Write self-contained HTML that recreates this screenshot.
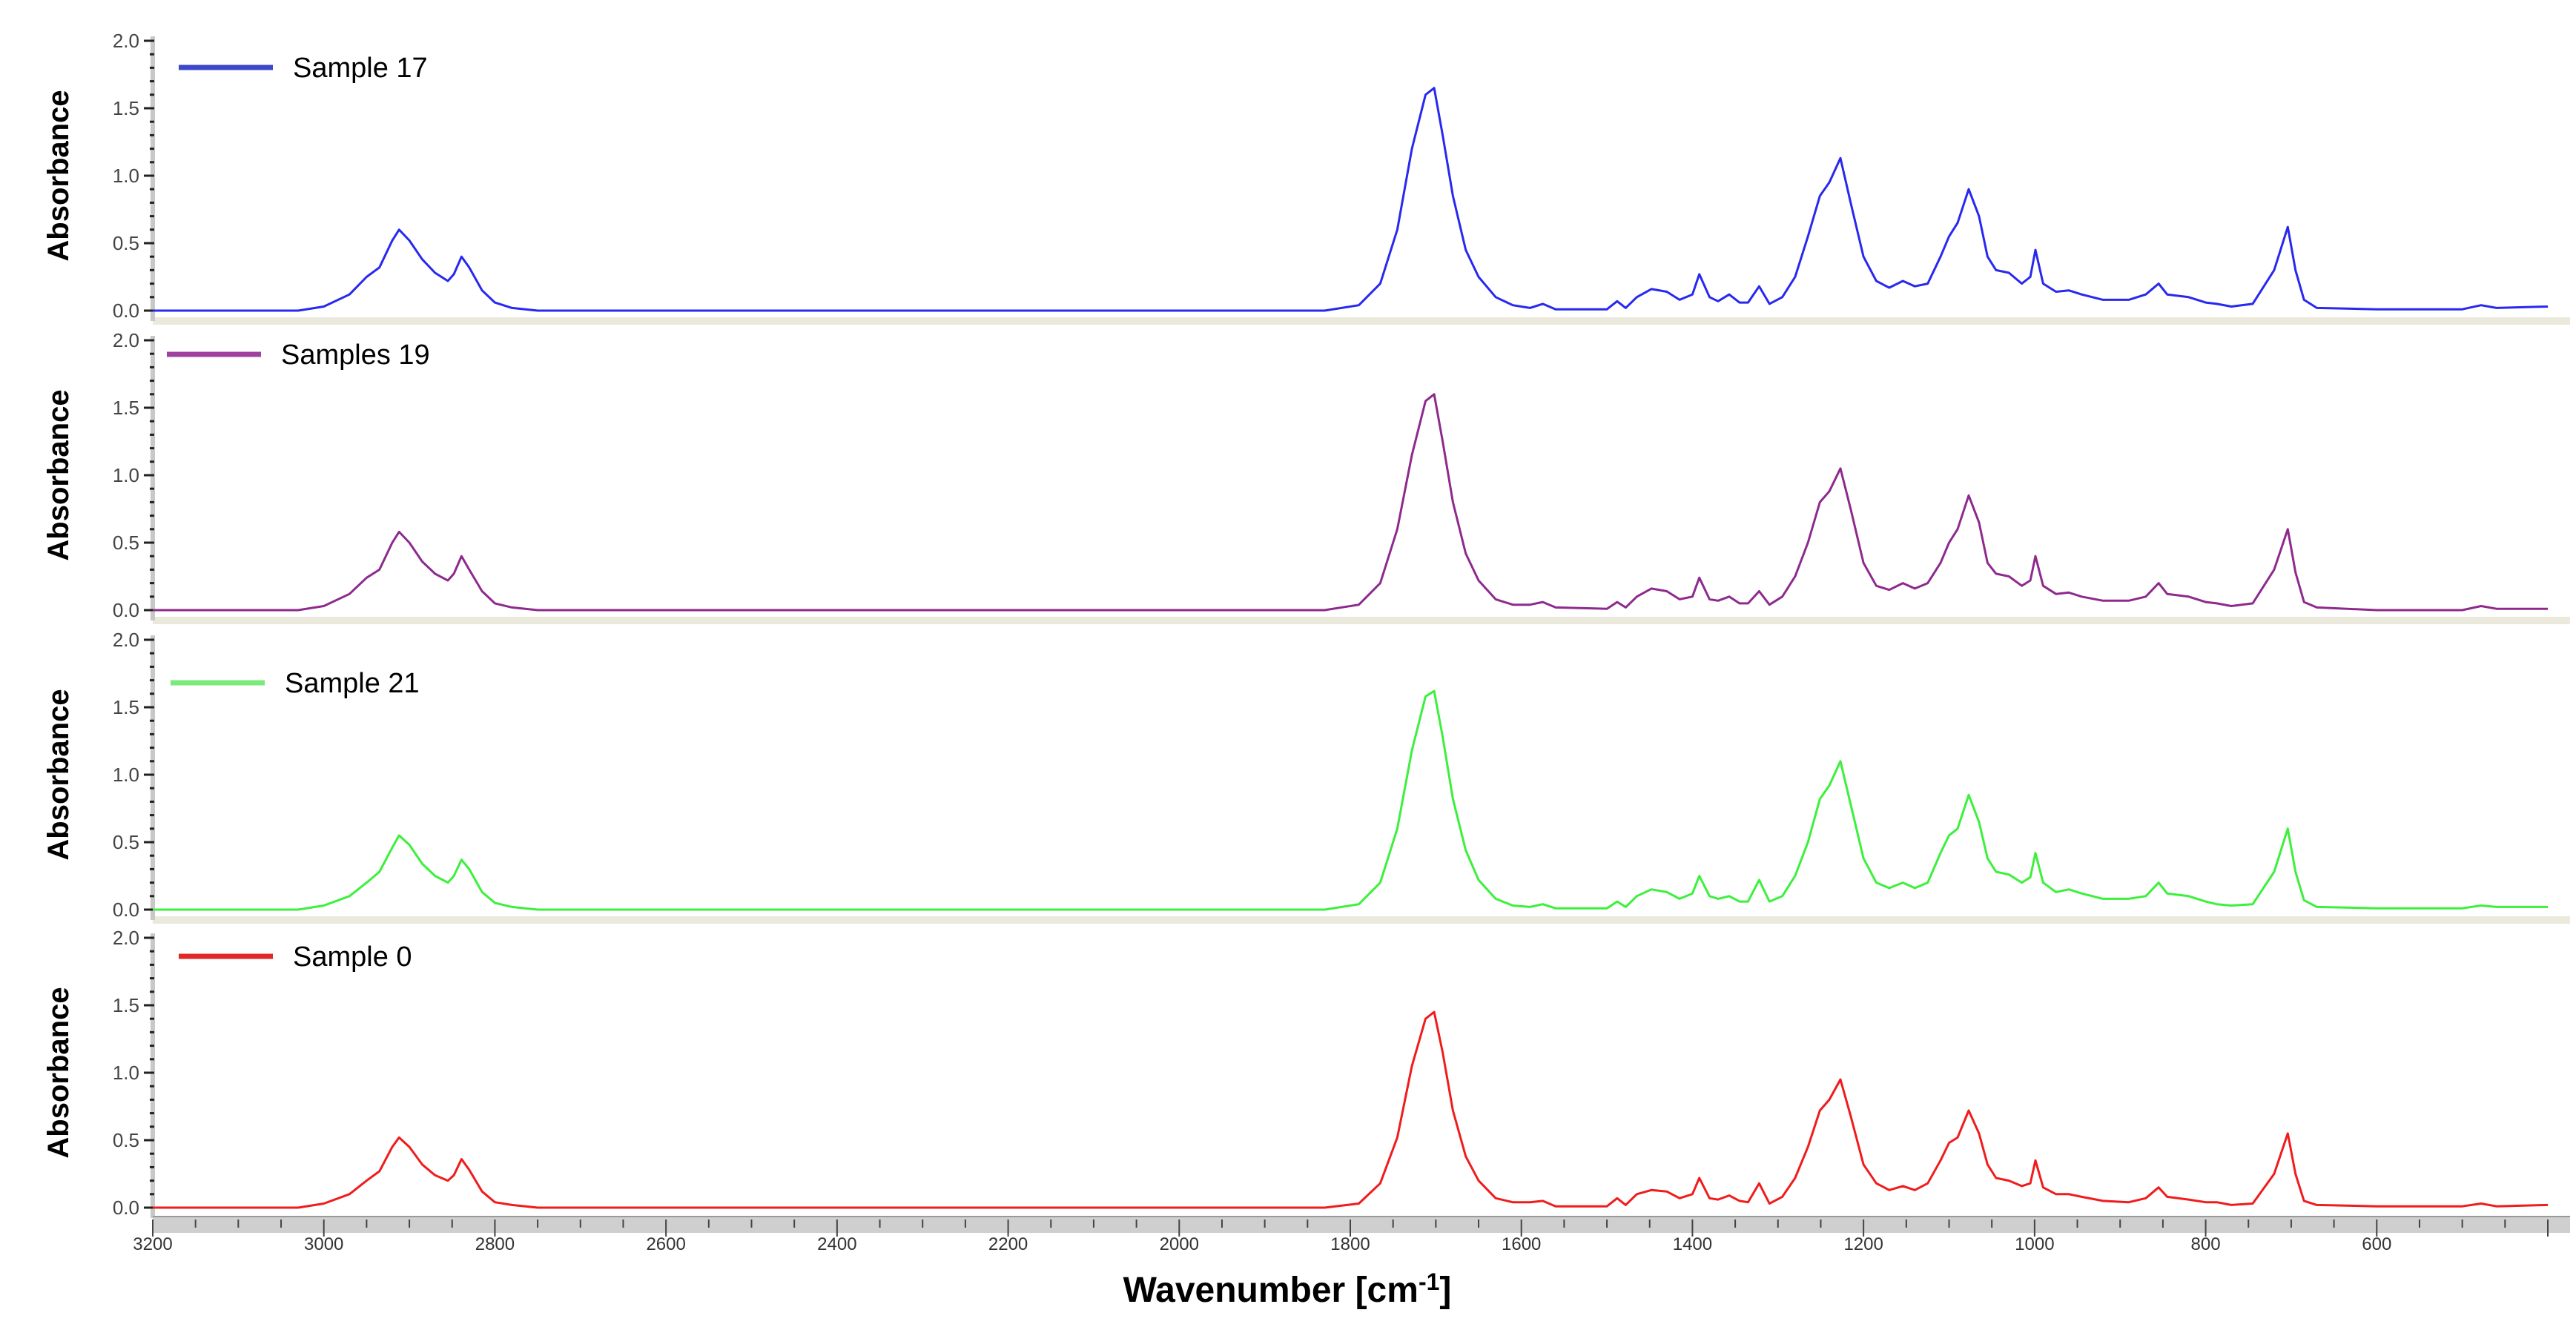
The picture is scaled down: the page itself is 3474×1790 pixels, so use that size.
<!DOCTYPE html>
<html><head><meta charset="utf-8">
<style>
html,body{margin:0;padding:0;background:#fff;}
svg{display:block;font-family:"Liberation Sans",sans-serif;}
</style></head>
<body>
<svg id="chart" width="3474" height="1790" viewBox="0 0 3474 1790" xmlns="http://www.w3.org/2000/svg">
<g id="layer"></g>
<text x="1736" y="1756" text-anchor="middle" font-size="48" font-weight="bold" fill="#000">Wavenumber  [cm<tspan font-size="32" dy="-16">-1</tspan><tspan dy="16">]</tspan></text>
</svg>
<script>
const wavenumbers = [3200,3100,3030,3000,2970,2950,2935,2920,2912,2900,2885,2870,2855,2848,2839,2830,2815,2800,2780,2750,1830,1790,1765,1745,1728,1712,1702,1692,1680,1665,1650,1630,1610,1590,1575,1560,1500,1488,1478,1465,1448,1430,1415,1400,1392,1380,1370,1357,1345,1335,1322,1310,1295,1280,1265,1251,1240,1227,1215,1200,1185,1170,1154,1140,1125,1110,1100,1090,1077,1065,1055,1045,1030,1015,1005,999,990,975,960,945,920,890,870,855,845,820,800,787,770,745,720,704,695,685,670,600,500,478,460,400];
const sample17 = [0,0,0,0.03,0.12,0.25,0.32,0.52,0.6,0.52,0.38,0.28,0.22,0.27,0.4,0.32,0.15,0.06,0.02,0,0,0.04,0.2,0.6,1.2,1.6,1.65,1.3,0.85,0.45,0.25,0.1,0.04,0.02,0.05,0.01,0.01,0.07,0.02,0.1,0.16,0.14,0.08,0.12,0.27,0.1,0.07,0.12,0.06,0.06,0.18,0.05,0.1,0.25,0.55,0.85,0.95,1.13,0.8,0.4,0.22,0.17,0.22,0.18,0.2,0.4,0.55,0.65,0.9,0.7,0.4,0.3,0.28,0.2,0.25,0.45,0.2,0.14,0.15,0.12,0.08,0.08,0.12,0.2,0.12,0.1,0.06,0.05,0.03,0.05,0.3,0.62,0.3,0.08,0.02,0.01,0.01,0.04,0.02,0.03];
const sample19 = [0,0,0,0.03,0.12,0.24,0.3,0.5,0.58,0.5,0.36,0.27,0.22,0.27,0.4,0.3,0.14,0.05,0.02,0,0,0.04,0.2,0.6,1.15,1.55,1.6,1.25,0.8,0.42,0.22,0.08,0.04,0.04,0.06,0.02,0.01,0.06,0.02,0.1,0.16,0.14,0.08,0.1,0.24,0.08,0.07,0.1,0.05,0.05,0.14,0.04,0.1,0.25,0.5,0.8,0.88,1.05,0.75,0.35,0.18,0.15,0.2,0.16,0.2,0.35,0.5,0.6,0.85,0.65,0.35,0.27,0.25,0.18,0.22,0.4,0.18,0.12,0.13,0.1,0.07,0.07,0.1,0.2,0.12,0.1,0.06,0.05,0.03,0.05,0.3,0.6,0.28,0.06,0.02,0,0,0.03,0.01,0.01];
const sample21 = [0,0,0,0.03,0.1,0.2,0.28,0.46,0.55,0.48,0.34,0.25,0.2,0.25,0.37,0.3,0.13,0.05,0.02,0,0,0.04,0.2,0.6,1.18,1.58,1.62,1.28,0.82,0.44,0.22,0.08,0.03,0.02,0.04,0.01,0.01,0.06,0.02,0.1,0.15,0.13,0.08,0.12,0.25,0.1,0.08,0.1,0.06,0.06,0.22,0.06,0.1,0.25,0.5,0.82,0.92,1.1,0.78,0.38,0.2,0.16,0.2,0.16,0.2,0.42,0.55,0.6,0.85,0.65,0.38,0.28,0.26,0.2,0.24,0.42,0.2,0.13,0.15,0.12,0.08,0.08,0.1,0.2,0.12,0.1,0.06,0.04,0.03,0.04,0.28,0.6,0.28,0.07,0.02,0.01,0.01,0.03,0.02,0.02];
const sample0 = [0,0,0,0.03,0.1,0.2,0.27,0.45,0.52,0.45,0.32,0.24,0.2,0.24,0.36,0.28,0.12,0.04,0.02,0,0,0.03,0.18,0.52,1.05,1.4,1.45,1.15,0.72,0.38,0.2,0.07,0.04,0.04,0.05,0.01,0.01,0.07,0.02,0.1,0.13,0.12,0.07,0.1,0.22,0.07,0.06,0.09,0.05,0.04,0.18,0.03,0.08,0.22,0.45,0.72,0.8,0.95,0.68,0.32,0.18,0.13,0.16,0.13,0.18,0.35,0.48,0.52,0.72,0.55,0.32,0.22,0.2,0.16,0.18,0.35,0.15,0.1,0.1,0.08,0.05,0.04,0.07,0.15,0.08,0.06,0.04,0.04,0.02,0.03,0.25,0.55,0.25,0.05,0.02,0.01,0.01,0.03,0.01,0.02];
const seriesNames = ["Sample 17","Samples 19","Sample 21","Sample 0"];
const xTicks = [3200,3000,2800,2600,2400,2200,2000,1800,1600,1400,1200,1000,800,600];
const yTicks = [0.0,0.5,1.0,1.5,2.0];

const series=[sample17,sample19,sample21,sample0];
const colors=["#2828f0","#8e2a8e","#3cf03c","#f01c1c"];
const legendColors=["#3d47c9","#a040a0","#7aea7a","#e02828"];
const L=206,R=3436,W0=3200,W1=400;
const zeros=[419,823,1227,1629];
const unit=182;
const NS="http://www.w3.org/2000/svg";
const layer=document.getElementById('layer');
function xs(w){return L+(W0-w)/(W0-W1)*(R-L);}
function mk(tag,attrs,parent){const e=document.createElementNS(NS,tag);for(const k in attrs)e.setAttribute(k,attrs[k]);(parent||layer).appendChild(e);return e;}

zeros.forEach((z,p)=>{
  const g=mk('g',{});
  
  
  // separator band
  if(p<3){const b=mk('rect',{x:L,y:z+9,width:R-L+30,height:10,fill:'#ebe8dc'},g);
    
    }
  // y axis
  const ax=mk('rect',{x:L-3,y:z-unit*2-6,width:6,height:unit*2+20,fill:'#c8c8c8'},g);
  
  
  for(let i=0;i<=20;i++){
    const y=z-i*0.1*unit;
    const major=i%5===0;
    const t=mk('line',{x1:major?L-12:L-4,x2:L+2,y1:y,y2:y,stroke:'#222','stroke-width':3},g);
    
    
  }
  yTicks.forEach(v=>{
    const t=mk('text',{x:L-18,y:z-v*unit+9,'text-anchor':'end','font-size':26,fill:'#444'},g);
    t.textContent=v.toFixed(1);
    
    
  });
  const yt=mk('text',{x:0,y:0,'text-anchor':'middle','font-size':40,'font-weight':'bold',fill:'#000',transform:`translate(92,${z-unit}) rotate(-90)`},g);
  yt.textContent='Absorbance';
  
  
  // series
  const pts=wavenumbers.map((w,i)=>xs(w).toFixed(1)+','+(z-series[p][i]*unit).toFixed(1)).join(' ');
  const pl=mk('polyline',{points:pts,fill:'none',stroke:colors[p],'stroke-width':3,'stroke-linejoin':'round'},g);
  
  
  // legend
  const ly=[91,478,921,1290][p];
  const lx=[241,225,230,241][p];
  const lg=mk('g',{},g);
  
  
  mk('line',{x1:lx,x2:lx+127,y1:ly,y2:ly,stroke:legendColors[p],'stroke-width':7},lg);
  const lt=mk('text',{x:lx+154,y:ly+13,'font-size':38,fill:'#000'},lg);
  lt.textContent=seriesNames[p];
});

// bottom x axis
const xa=mk('g',{});


mk('rect',{x:L,y:1641,width:R-L+30,height:22,fill:'#cfcfcf'},xa);
mk('line',{x1:L,x2:R+30,y1:1641,y2:1641,stroke:'#999','stroke-width':2},xa);
for(let w=3200;w>=400;w-=50){
  const major=w%200===0;
  const t=mk('line',{x1:xs(w),x2:xs(w),y1:1645,y2:major?1668:1656,stroke:'#444','stroke-width':2},xa);
  
  
}
xTicks.forEach(w=>{
  const t=mk('text',{x:xs(w),y:1686,'text-anchor':'middle','font-size':24,fill:'#333'},xa);
  t.textContent=w;
  
  
});
</script>
</body></html>
